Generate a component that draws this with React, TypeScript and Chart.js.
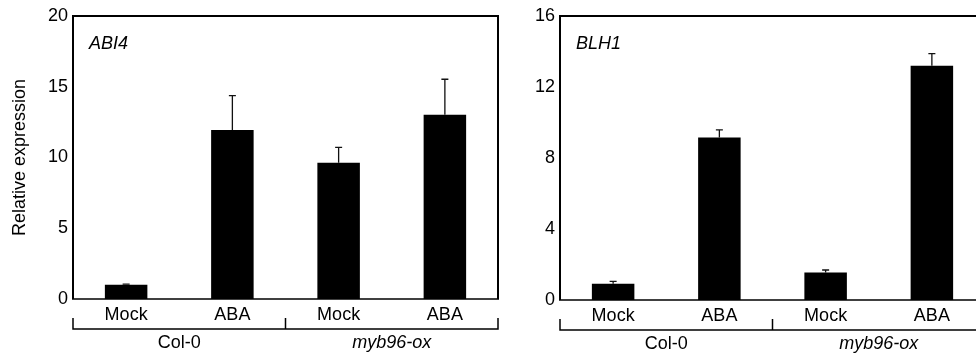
import React, { useEffect, useRef } from "react";
import { Chart, registerables } from "chart.js";

Chart.register(...registerables);

// ---- data ----
const categories = ["Mock", "ABA", "Mock", "ABA"];
const groupLabels = ["Col-0", "myb96-ox"];
const groupItalic = [false, true];

const abi4Values = [1.0, 11.95, 9.63, 13.03];
const abi4Errors = [0.05, 2.42, 1.09, 2.5];
const abi4Ticks = [0, 5, 10, 15, 20];

const blh1Values = [0.92, 9.15, 1.55, 13.2];
const blh1Errors = [0.13, 0.43, 0.14, 0.68];
const blh1Ticks = [0, 4, 8, 12, 16];

const FONT = "'Liberation Sans', Arial, Helvetica, sans-serif";

type PanelProps = {
  gene: string;
  values: number[];
  errors: number[];
  ticks: number[];
  yTitle?: string;
  canvasLeft: number;
  canvasWidth: number;
  yAxisWidth: number;
  padRight: number;
  plotBottom: number;
};

function Panel(props: PanelProps) {
  const ref = useRef<HTMLCanvasElement | null>(null);
  useEffect(() => {
    const canvas = ref.current;
    if (!canvas) return;
    const H = 358;
    const xAxisHeight = H - props.plotBottom;
    const decor = {
      id: "decor",
      afterDatasetsDraw(chart: any) {
        const { ctx, scales } = chart;
        const x = scales.x;
        const y = scales.y;
        ctx.save();
        ctx.strokeStyle = "#111";
        ctx.lineWidth = 1.3;
        props.values.forEach((v, i) => {
          const px = x.getPixelForValue(i);
          const y0 = y.getPixelForValue(v);
          const y1 = y.getPixelForValue(v + props.errors[i]);
          ctx.beginPath();
          ctx.moveTo(px, y0);
          ctx.lineTo(px, y1);
          ctx.moveTo(px - 3.5, y1);
          ctx.lineTo(px + 3.5, y1);
          ctx.stroke();
        });
        ctx.restore();
      },
      afterDraw(chart: any) {
        const { ctx, chartArea: a, scales } = chart;
        const x = scales.x;
        ctx.save();
        ctx.strokeStyle = "#000";
        ctx.lineWidth = 2;
        ctx.beginPath();
        ctx.moveTo(a.left, a.bottom);
        ctx.lineTo(a.left, a.top);
        ctx.lineTo(a.right, a.top);
        ctx.lineTo(a.right, a.bottom);
        ctx.stroke();
        ctx.lineWidth = 1.5;
        ctx.beginPath();
        ctx.moveTo(a.left - 1, a.bottom);
        ctx.lineTo(a.right + 1, a.bottom);
        ctx.stroke();

        // gene label
        ctx.fillStyle = "#000";
        ctx.font = `italic 18px ${FONT}`;
        ctx.textAlign = "left";
        ctx.textBaseline = "middle";
        ctx.fillText(props.gene, a.left + 16, a.top + 28);

        // bracket
        const by = a.bottom + 30;
        const tt = a.bottom + 19;
        const mid = (x.getPixelForValue(1) + x.getPixelForValue(2)) / 2;
        ctx.lineWidth = 1.5;
        ctx.beginPath();
        ctx.moveTo(a.left, tt);
        ctx.lineTo(a.left, by);
        ctx.lineTo(a.right, by);
        ctx.lineTo(a.right, tt);
        ctx.moveTo(mid, tt);
        ctx.lineTo(mid, by);
        ctx.stroke();

        // group labels
        ctx.textAlign = "center";
        groupLabels.forEach((g, gi) => {
          const cx =
            (x.getPixelForValue(gi * 2) + x.getPixelForValue(gi * 2 + 1)) / 2;
          ctx.font = `${groupItalic[gi] ? "italic " : ""}18px ${FONT}`;
          ctx.fillText(g, cx, a.bottom + 44);
        });
        ctx.restore();
      },
    };

    const chart = new Chart(canvas, {
      type: "bar",
      data: {
        labels: categories,
        datasets: [
          {
            data: props.values,
            backgroundColor: "#000",
            borderWidth: 0,
            barPercentage: 0.4,
            categoryPercentage: 1,
          },
        ],
      },
      options: {
        responsive: false,
        animation: false,
        events: [],
        layout: { padding: { top: 16, right: props.padRight, left: 0, bottom: 0 } },
        plugins: {
          legend: { display: false },
          tooltip: { enabled: false },
        },
        scales: {
          x: {
            grid: { display: false, drawTicks: false },
            border: { display: false },
            ticks: {
              color: "#000",
              padding: 5,
              font: { family: FONT, size: 18, lineHeight: 1.2 },
              maxRotation: 0,
            },
            afterFit(scale: any) {
              scale.height = xAxisHeight;
            },
          },
          y: {
            min: props.ticks[0],
            max: props.ticks[props.ticks.length - 1],
            grid: { display: false, drawTicks: false },
            border: { display: false },
            afterBuildTicks(scale: any) {
              scale.ticks = props.ticks.map((v) => ({ value: v }));
            },
            ticks: {
              color: "#000",
              padding: 5,
              font: { family: FONT, size: 18, lineHeight: 1.2 },
            },
            title: {
              display: !!props.yTitle,
              text: props.yTitle || "",
              color: "#000",
              font: { family: FONT, size: 18, lineHeight: 1.2 },
              padding: { top: 9, bottom: 0 },
            },
            afterFit(scale: any) {
              scale.width = props.yAxisWidth;
            },
          },
        },
      },
      plugins: [decor],
    } as any);
    return () => chart.destroy();
  }, []);
  return (
    <canvas
      ref={ref}
      width={props.canvasWidth}
      height={358}
      style={{
        position: "absolute",
        left: props.canvasLeft,
        top: 0,
        width: props.canvasWidth,
        height: 358,
      }}
    />
  );
}

export default function App() {
  return (
    <div
      style={{
        position: "fixed",
        left: 0,
        top: 0,
        width: 976,
        height: 358,
        overflow: "hidden",
        background: "#fff",
      }}
    >
      <Panel
        gene="ABI4"
        values={abi4Values}
        errors={abi4Errors}
        ticks={abi4Ticks}
        yTitle="Relative expression"
        canvasLeft={0}
        canvasWidth={500}
        yAxisWidth={73}
        padRight={2}
        plotBottom={299}
      />
      <Panel
        gene="BLH1"
        values={blh1Values}
        errors={blh1Errors}
        ticks={blh1Ticks}
        canvasLeft={500}
        canvasWidth={500}
        yAxisWidth={60}
        padRight={15}
        plotBottom={300}
      />
    </div>
  );
}
